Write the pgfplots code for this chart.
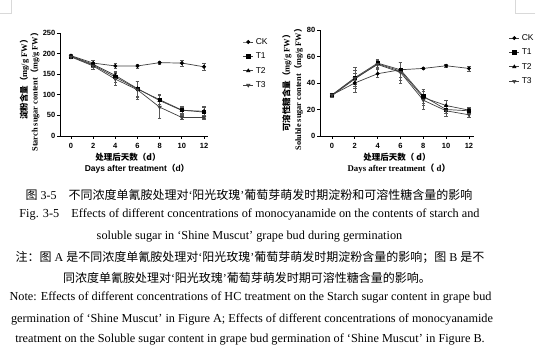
\documentclass[border=0pt]{standalone}
\usepackage{pgfplots}
\pgfplotsset{compat=1.18}
\usepackage{fontspec}
\setmainfont{Liberation Serif}
\newfontfamily\sans{Liberation Sans}
\newfontfamily\cjk{Noto Sans CJK SC}

\pgfplotstableread{
x y e
0 195 3
2 177 6
4 170 6
6 170 5
8 178 3
10 177 7
12 168 8
}\starchCK
\pgfplotstableread{
x y e
0 193 3
2 172 5
4 143 12
6 114 20
8 88 12
10 63 10
12 58 14
}\starchTA
\pgfplotstableread{
x y e
0 194 3
2 174 6
4 147 10
6 115 18
8 86 15
10 62 8
12 60 10
}\starchTB
\pgfplotstableread{
x y e
0 192 3
2 170 7
4 138 15
6 112 22
8 70 28
10 45 5
12 45 5
}\starchTC

\pgfplotstableread{
x y e
0 31 1.5
2 40 7
4 47 3
6 50 6
8 51 0.8
10 53 0.8
12 51 2
}\solCK
\pgfplotstableread{
x y e
0 31 1.5
2 44 8
4 55 3
6 50 6
8 30 5
10 20 3
12 19 2
}\solTA
\pgfplotstableread{
x y e
0 30.5 1
2 43 4
4 54.5 3
6 49 7
8 29 6
10 23 4
12 19.5 2
}\solTB
\pgfplotstableread{
x y e
0 31 1
2 43.5 6
4 54 4
6 48 8
8 27 7
10 19 4
12 16 2
}\solTC

\pgfplotsset{
  ser/.style={line width=0.7pt, black!75,
      mark options={solid, fill=black, draw=black},
      error bars/y dir=both, error bars/y explicit,
      error bars/error bar style={line width=0.5pt, black!65},
      error bars/error mark options={rotate=90, mark size=1.8pt, line width=0.5pt, black!65}},
  panel/.style={
    scale only axis,
    axis lines=left,
    axis line style={-, line width=0.8pt, black},
    tick style={line width=0.8pt, black},
    tick align=outside,
    major tick length=3pt,
    xtick={0,2,...,12},
    ticklabel style={font=\sans\bfseries\fontsize{7.5}{8}\selectfont},
    /pgf/number format/assume math mode=true,
    xticklabel style={yshift=-1pt},
    yticklabel style={inner sep=1.5pt},
    clip=false,
    legend style={draw=none, fill=none, inner sep=0pt,
      font=\sans\fontsize{8.5}{9}\selectfont, row sep=3pt,
      cells={anchor=west}},
    legend image code/.code={\draw[mark repeat=2,mark phase=2]
      plot coordinates {(0cm,0cm)(0.18cm,0cm)(0.36cm,0cm)};},
  }
}

\begin{document}
\begin{tikzpicture}[x=1pt,y=1pt]
\useasboundingbox (0,0) rectangle (550,355);
% corner marks
\draw[black!15, line width=0.8pt] (0,342) -- (11,342) -- (11,355);
\draw[black!15, line width=0.8pt] (535,342) -- (515,342) -- (515,355);

% left panel
\begin{axis}[panel, at={(60pt,219pt)}, anchor=south west,
  width=148pt, height=103pt,
  xmin=-0.99, xmax=12.36, ymin=0, ymax=250, ytick={0,50,...,250},
  legend style={at={(1.234,0.97)}, anchor=north west}]
\addplot[ser, mark=*, mark size=1.6pt] table[x=x,y=y,y error=e]{\starchCK};
\addplot[ser, mark=square*, mark size=1.6pt] table[x=x,y=y,y error=e]{\starchTA};
\addplot[ser, mark=triangle*, mark size=1.8pt] table[x=x,y=y,y error=e]{\starchTB};
\addplot[ser, mark=triangle*, mark size=1.8pt, mark options={rotate=180}] table[x=x,y=y,y error=e]{\starchTC};
\legend{CK,T1,T2,T3}
\end{axis}

% right panel
\begin{axis}[panel, at={(320pt,219pt)}, anchor=south west,
  width=154pt, height=106pt,
  xmin=-1.05, xmax=12.44, ymin=0, ymax=80, ytick={0,20,...,80},
  legend style={at={(1.225,0.98)}, anchor=north west}]
\addplot[ser, mark=*, mark size=1.6pt] table[x=x,y=y,y error=e]{\solCK};
\addplot[ser, mark=square*, mark size=1.6pt] table[x=x,y=y,y error=e]{\solTA};
\addplot[ser, mark=triangle*, mark size=1.8pt] table[x=x,y=y,y error=e]{\solTB};
\addplot[ser, mark=triangle*, mark size=1.8pt, mark options={rotate=180}] table[x=x,y=y,y error=e]{\solTC};
\legend{CK,T1,T2,T3}
\end{axis}

% axis labels left
\node[rotate=90, inner sep=0] at (24.5,277.5) {\fontsize{8.5}{9}\selectfont{\cjk\bfseries 淀粉含量（}\bfseries mg/g FW{\cjk\bfseries ）}};
\node[rotate=90, inner sep=0] at (35,265) {\fontsize{8.3}{9}\selectfont\bfseries Starch sugar content{\cjk\bfseries （}mg/g FW{\cjk\bfseries ）}};
\node[inner sep=0] at (128,198) {\fontsize{8.5}{9}\selectfont\cjk\bfseries 处理后天数（d）};
\node[inner sep=0] at (137,186) {\fontsize{8.5}{9}\selectfont\sans\bfseries Days after treatment{\cjk\bfseries （}d{\cjk\bfseries ）}};

% axis labels right
\node[rotate=90, inner sep=0] at (287,274) {\fontsize{8.5}{9}\selectfont{\cjk\bfseries 可溶性糖含量（}\bfseries mg/g FW{\cjk\bfseries ）}};
\node[rotate=90, inner sep=0] at (298.5,267.5) {\fontsize{8.3}{9}\selectfont\bfseries Soluble sugar content{\cjk\bfseries （}mg/g FW{\cjk\bfseries ）}};
\node[inner sep=0] at (397,198) {\fontsize{8.5}{9}\selectfont\cjk\bfseries 处理后天数（ d）};
\node[inner sep=0] at (399,186) {\fontsize{8.8}{9}\selectfont\bfseries Days after treatment{\cjk\bfseries （} d{\cjk\bfseries ）}};

% caption
\def\cap{\fontsize{12}{14}\selectfont}
\def\capE{\fontsize{12.25}{14}\selectfont}
\node[inner sep=0] at (249,160) {\cap{\cjk 图} 3-5\hspace{1em}{\cjk 不同浓度单氰胺处理对}‘{\cjk 阳光玫瑰}’{\cjk 葡萄芽萌发时期淀粉和可溶性糖含量的影响}};
\node[inner sep=0] at (249.5,140) {\capE Fig. 3-5\hspace{1em}Effects of different concentrations of monocyanamide on the contents of starch and};
\node[inner sep=0] at (249.5,118) {\capE soluble sugar in ‘Shine Muscut’ grape bud during germination};
\node[inner sep=0] at (250,98) {\cap{\cjk 注：图} A {\cjk 是不同浓度单氰胺处理对}‘{\cjk 阳光玫瑰}’{\cjk 葡萄芽萌发时期淀粉含量的影响；图} B {\cjk 是不}};
\node[inner sep=0] at (247,77) {\cap{\cjk 同浓度单氰胺处理对}‘{\cjk 阳光玫瑰}’{\cjk 葡萄芽萌发时期可溶性糖含量的影响。}};
\node[inner sep=0] at (250.5,57) {\capE Note: Effects of different concentrations of HC treatment on the Starch sugar content in grape bud};
\node[inner sep=0] at (252,35) {\capE germination of ‘Shine Muscut’ in Figure A; Effects of different concentrations of monocyanamide};
\node[inner sep=0] at (250,15) {\capE treatment on the Soluble sugar content in grape bud germination of ‘Shine Muscut’ in Figure B.};
\end{tikzpicture}
\end{document}
